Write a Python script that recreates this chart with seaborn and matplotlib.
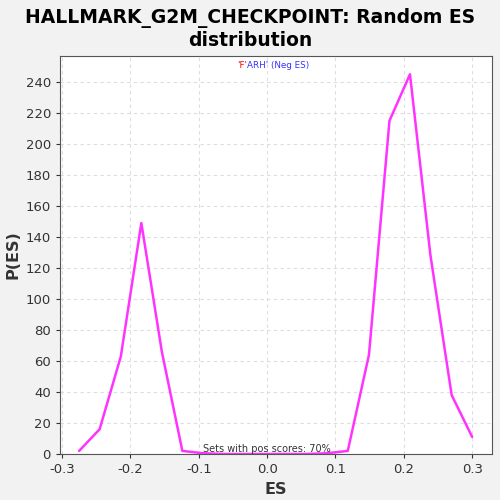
import numpy as np
import pandas as pd
import matplotlib
matplotlib.use("Agg")
import matplotlib.pyplot as plt
import seaborn as sns

# ===== DATA =====
es_values = [-0.275, -0.245, -0.214, -0.184, -0.154, -0.124, -0.094, -0.063,
             -0.033, -0.003, 0.027, 0.058, 0.088, 0.118, 0.149, 0.179,
             0.209, 0.239, 0.270, 0.300]
p_es = [2, 16, 63, 149, 66, 2, 0.5, 0, 0, 0, 0, 0, 0.5, 2, 64, 215, 245, 128, 38, 11]
x_ticks = [-0.3, -0.2, -0.1, 0.0, 0.1, 0.2, 0.3]
y_ticks = list(range(0, 260, 20))

df = pd.DataFrame({"ES": es_values, "P(ES)": p_es})

sns.set_style("whitegrid")
plt.rcParams["font.family"] = ["DejaVu Sans"]

fig = plt.figure(figsize=(5, 5), dpi=100, facecolor="#f2f2f2")
ax = fig.add_axes([0.12, 0.092, 0.864, 0.796])
ax.set_facecolor("white")

sns.lineplot(data=df, x="ES", y="P(ES)", color="#ff33ff", linewidth=1.8, ax=ax)

ax.set_xlim(-0.303, 0.329)
ax.set_ylim(0, 256.8)
ax.set_xticks(x_ticks)
ax.set_xticklabels([f"{t:.1f}" for t in x_ticks])
ax.set_yticks(y_ticks)
ax.tick_params(labelsize=9.5, colors="#333333", length=3, left=True, bottom=True)
ax.grid(True, color="#dddddd", linestyle=(0, (3, 3)), linewidth=0.8)
for s in ax.spines.values():
    s.set_color("#555555")
    s.set_linewidth(0.8)

ax.set_xlabel("ES", fontsize=11.5, fontweight="bold", color="#333333")
ax.set_ylabel("P(ES)", fontsize=11.5, fontweight="bold", color="#333333")

fig.suptitle("HALLMARK_G2M_CHECKPOINT: Random ES\ndistribution",
             fontsize=13.5, fontweight="bold", color="black", y=0.985, va="top",
             linespacing=1.25)

# legend-like label
ax.text(0.433, 0.975, "'F'", transform=ax.transAxes, fontsize=6.3, color="red",
        ha="right", va="center")
ax.text(0.433, 0.975, "ARH' (Neg ES)", transform=ax.transAxes, fontsize=6.3,
        color="#3333ff", ha="left", va="center")

ax.text(0.0, 0.0, "Sets with pos scores: 70%", fontsize=7, color="#333333",
        ha="center", va="bottom")

plt.savefig("out.png", dpi=100, facecolor=fig.get_facecolor())
